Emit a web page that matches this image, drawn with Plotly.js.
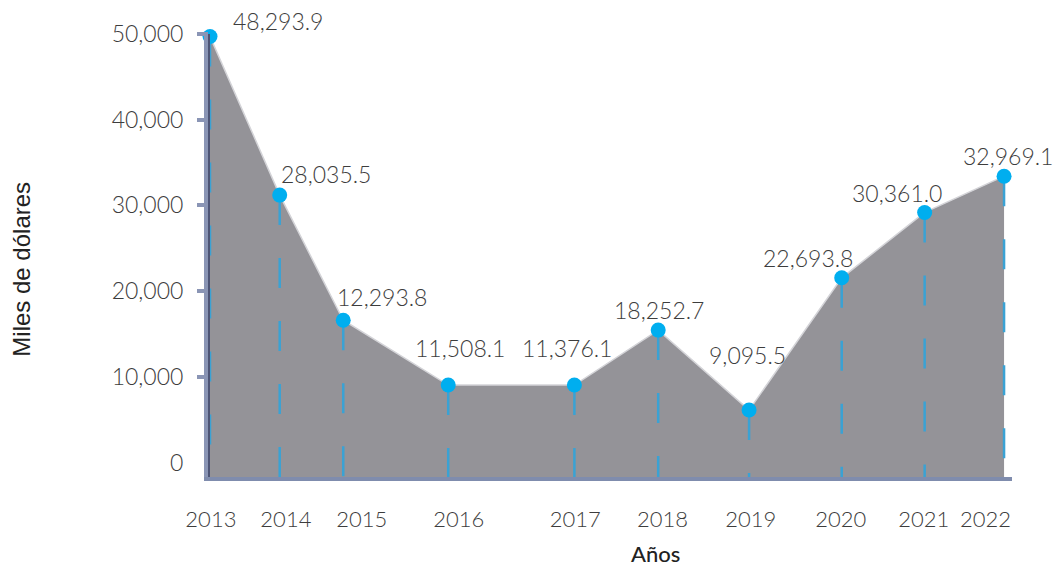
<!DOCTYPE html>
<html>
<head>
<meta charset="utf-8">
<script src="https://cdn.plot.ly/plotly-3.0.1.min.js"></script>
<style>
  html, body { margin: 0; padding: 0; background: #ffffff; }
  #chart { width: 1054px; height: 569px; }
</style>
</head>
<body>
<div id="chart"></div>
<script>
// ---- Data ----
const years = ['2013', '2014', '2015', '2016', '2017', '2018', '2019', '2020', '2021', '2022'];
// horizontal placement of each year as drawn in the reference (uneven spacing), in year units
const yearPlacement = [2013, 2013.79, 2014.51, 2015.70, 2017.13, 2018.08, 2019.11, 2020.16, 2021.10, 2022];
// reported values (thousands of dollars), shown as labels
const reportedValues = [48293.9, 28035.5, 12293.8, 11508.1, 11376.1, 18252.7, 9095.5, 22693.8, 30361.0, 32969.1];
// heights at which the points are drawn in the reference
const drawnHeights = [49700, 31200, 16600, 9040, 9040, 15450, 6120, 21550, 29180, 33410];
const yTickValues = [0, 10000, 20000, 30000, 40000, 50000];

// ---- Styling ----
const Y_MIN = -1691, Y_MAX = 50000;
const X_MIN = 2013, X_MAX = 2022.09;
// where the year labels sit under the axis in the reference
const tickPlacement = [2013.01, 2013.86, 2014.72, 2015.82, 2017.14, 2018.13, 2019.13, 2020.15, 2021.09, 2021.79];
const labelOffsets = [[68, -16], [46, -21], [39, -23], [12, -37], [-7, -37], [1, -20], [-2, -55], [-34, -20], [-28, -19], [4, -20]];
const thinFont = { family: 'Lato, "Open Sans", sans-serif', size: 23, color: '#3d3d3d', weight: 300 };
const xTickFont = { family: 'Lato, "Open Sans", sans-serif', size: 22, color: '#3d3d3d', weight: 300 };

const fmt = v => v.toLocaleString('en-US', { minimumFractionDigits: 1, maximumFractionDigits: 1 });
const fmtTick = v => v.toLocaleString('en-US');

const baseline = {
  x: yearPlacement, y: yearPlacement.map(() => Y_MIN),
  mode: 'lines', line: { width: 0 }, hoverinfo: 'skip', showlegend: false
};
const area = {
  x: yearPlacement, y: drawnHeights,
  mode: 'lines', fill: 'tonexty', fillcolor: '#949398',
  line: { color: '#d4d4d8', width: 1.5 }, hoverinfo: 'skip', showlegend: false
};
const dropX = [], dropY = [];
yearPlacement.forEach((x, i) => { dropX.push(x, x, null); dropY.push(drawnHeights[i], Y_MIN, null); });
const drops = {
  x: dropX, y: dropY, yaxis: 'y2',
  mode: 'lines', line: { color: '#3aa2d4', width: 2.5, dash: '30px,33px' },
  hoverinfo: 'skip', showlegend: false, cliponaxis: false
};
const points = {
  x: yearPlacement, y: drawnHeights, yaxis: 'y2',
  mode: 'markers', marker: { color: '#00aeef', size: 15 },
  text: reportedValues.map(fmt), hoverinfo: 'text',
  showlegend: false, cliponaxis: false
};

const annotations = reportedValues.map((v, i) => ({
  x: yearPlacement[i], y: drawnHeights[i], xref: 'x', yref: 'y',
  text: fmt(v), showarrow: false, xanchor: 'center', yanchor: 'middle',
  xshift: labelOffsets[i][0], yshift: -labelOffsets[i][1], font: thinFont
}));
annotations.push({
  xref: 'paper', yref: 'paper', x: -0.2344, y: 0.468, textangle: -90,
  text: 'Miles de dólares', showarrow: false, xanchor: 'center', yanchor: 'middle',
  font: { family: '"Liberation Sans", Arial, sans-serif', size: 24, color: '#222222' }
});
annotations.push({
  xref: 'paper', yref: 'paper', x: 0.555, y: -0.172,
  text: 'Años', showarrow: false, xanchor: 'center', yanchor: 'middle',
  font: { family: 'Lato, sans-serif', size: 22, color: '#222222', weight: 500 }
});

const layout = {
  width: 1054, height: 569,
  margin: { l: 210, r: 42, t: 34, b: 92 },
  paper_bgcolor: '#ffffff', plot_bgcolor: '#ffffff',
  showlegend: false,
  xaxis: {
    range: [X_MIN, X_MAX], tickvals: tickPlacement, ticktext: years,
    showgrid: false, zeroline: false, showline: true,
    linecolor: '#7f8cad', linewidth: 4, ticks: '',
    tickfont: xTickFont, ticklabelstandoff: 20
  },
  yaxis: {
    range: [Y_MIN, Y_MAX], tickvals: yTickValues, ticktext: yTickValues.map(fmtTick),
    showgrid: false, zeroline: false, showline: true,
    linecolor: '#8a95b5', linewidth: 6, ticks: '',
    tickfont: thinFont, ticklabelstandoff: 16
  },
  yaxis2: {
    overlaying: 'y', side: 'left', range: [Y_MIN, Y_MAX],
    tickvals: yTickValues.slice(1), showticklabels: false,
    ticks: 'outside', ticklen: 11, tickwidth: 4, tickcolor: '#8a95b5',
    showgrid: false, zeroline: false, showline: true,
    linecolor: '#4d5475', linewidth: 2
  },
  annotations: annotations
};

Plotly.newPlot('chart', [baseline, area, drops, points], layout, { displayModeBar: false, staticPlot: true });
</script>
</body>
</html>
